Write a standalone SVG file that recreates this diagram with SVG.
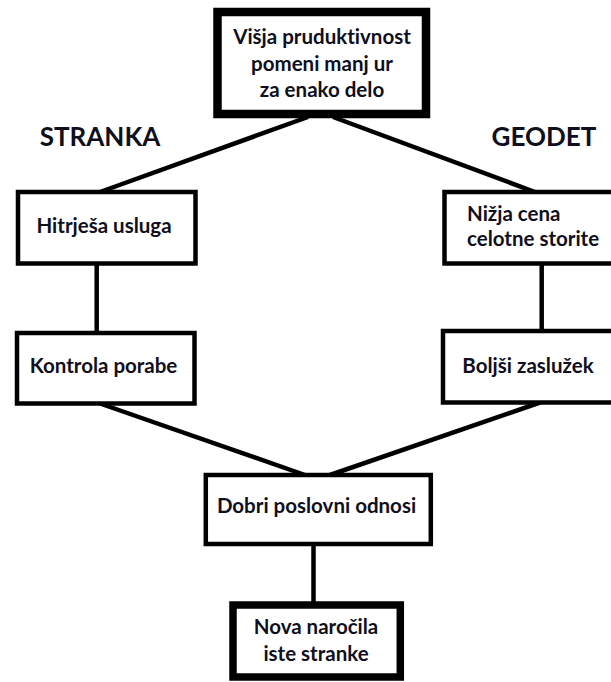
<svg xmlns="http://www.w3.org/2000/svg" width="611" height="682" viewBox="0 0 611 682">
<style>
.box{fill:#fff;stroke:#000;stroke-width:4.5}
.thick{stroke-width:8.5}
.edge{stroke:#000;stroke-width:4.5;fill:none}
text{font-family:Lato,"Liberation Sans",sans-serif;font-weight:bold;fill:#0f0f1e;font-variant-ligatures:none}
.t{font-size:20.5px}
.c{text-anchor:middle}
.lbl{font-size:26px}
</style>
<rect width="611" height="682" fill="#fff"/>
<g id="connectors">
<line class="edge" x1="308" y1="117" x2="100" y2="192"/>
<line class="edge" x1="333" y1="117" x2="535" y2="192"/>
<line class="edge" x1="96.7" y1="263.5" x2="96.7" y2="333"/>
<line class="edge" x1="541.7" y1="263.5" x2="541.7" y2="331"/>
<line class="edge" x1="100" y1="403.5" x2="305" y2="475"/>
<line class="edge" x1="540" y1="402.5" x2="330" y2="475"/>
<line class="edge" x1="313.5" y1="544" x2="313.5" y2="605"/>
</g>
<g id="n_top">
<rect class="box thick" x="217.5" y="12" width="208.5" height="102"/>
<text class="t c" x="322" y="44">Višja pruduktivnost</text>
<text class="t c" x="322" y="70.5">pomeni manj ur</text>
<text class="t c" x="322" y="96.5">za enako delo</text>
</g>
<g id="lbl_stranka"><text class="lbl c" x="100" y="146">STRANKA</text></g>
<g id="lbl_geodet"><text class="lbl c" x="544" y="146">GEODET</text></g>
<g id="n_hitrejsa">
<rect class="box" x="18" y="192" width="177.5" height="71.5"/>
<text class="t c" x="104" y="233.3">Hitrješa usluga</text>
</g>
<g id="n_nizja">
<rect class="box" x="444.5" y="192" width="200" height="71.5"/>
<text class="t" x="467" y="221">Nižja cena</text>
<text class="t" x="467" y="246">celotne storite</text>
</g>
<g id="n_kontrola">
<rect class="box" x="17" y="333" width="177.5" height="70.5"/>
<text class="t c" x="103.5" y="373.3">Kontrola porabe</text>
</g>
<g id="n_boljsi">
<rect class="box" x="443" y="331" width="200" height="71.5"/>
<text class="t c" x="528" y="373.3">Boljši zaslužek</text>
</g>
<g id="n_dobri">
<rect class="box" x="205.8" y="475" width="225" height="69"/>
<text class="t c" x="316.5" y="513.3">Dobri poslovni odnosi</text>
</g>
<g id="n_nova">
<rect class="box" style="stroke-width:7.5" x="233" y="605" width="167.3" height="72"/>
<text class="t c" x="316" y="634.3">Nova naročila</text>
<text class="t c" x="316" y="660.7">iste stranke</text>
</g>
</svg>
